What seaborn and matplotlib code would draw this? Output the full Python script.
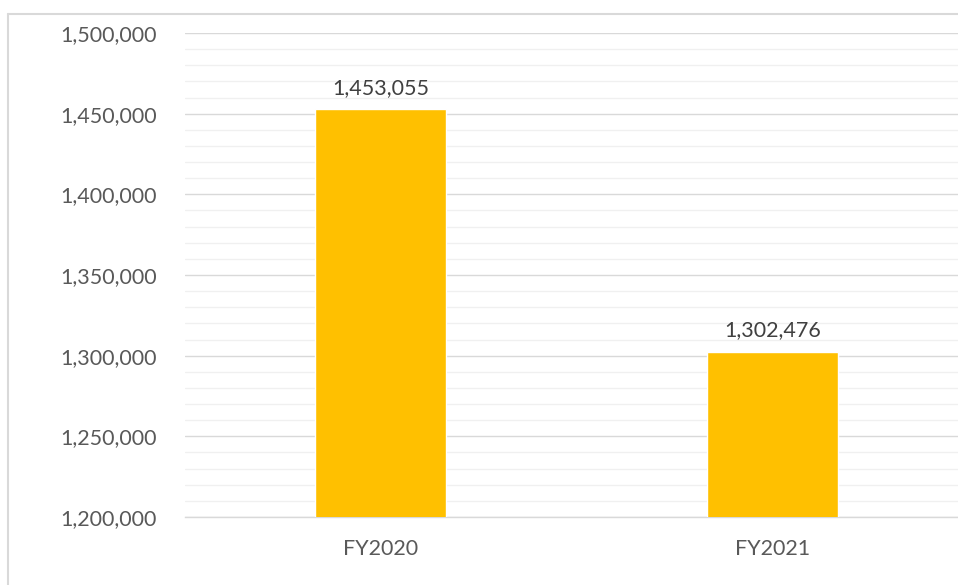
import matplotlib
matplotlib.use("Agg")
import matplotlib.pyplot as plt
from matplotlib.lines import Line2D
from matplotlib.ticker import MultipleLocator, FuncFormatter
import seaborn as sns
import pandas as pd

# Data
years = ["FY2020", "FY2021"]
values = [1453055, 1302476]

df = pd.DataFrame({"year": years, "value": values})

sns.set_style("white")
plt.rcParams["font.family"] = ["Lato", "DejaVu Sans"]

text_color = "#595959"

fig = plt.figure(figsize=(9.58, 5.85), dpi=100)
ax = fig.add_axes([0.1926, 0.1162, 0.8184, 0.8274])

sns.barplot(data=df, x="year", y="value", color="#FFC000", width=0.334,
            saturation=1, ax=ax, zorder=3)

ax.set_xlim(-0.5, 1.5)
ax.set_ylim(1200000, 1500000)
ax.yaxis.set_major_locator(MultipleLocator(50000))
ax.yaxis.set_minor_locator(MultipleLocator(10000))
ax.yaxis.set_major_formatter(FuncFormatter(lambda v, p: f"{v:,.0f}"))

ax.grid(axis="y", which="major", color="#d9d9d9", linewidth=1.0, zorder=0)
ax.grid(axis="y", which="minor", color="#f0f0f0", linewidth=1.0, zorder=0)
ax.set_axisbelow(True)

for s in ["top", "right", "left"]:
    ax.spines[s].set_visible(False)
ax.spines["bottom"].set_color("#d9d9d9")
ax.spines["bottom"].set_linewidth(1.0)

ax.tick_params(axis="y", which="both", length=0, pad=20, labelsize=15.5, labelcolor=text_color)
ax.tick_params(axis="x", length=0, pad=16, labelsize=15.5, labelcolor=text_color)
ax.set_xlabel("")
ax.set_ylabel("")

for i, v in enumerate(values):
    ax.annotate(f"{v:,}", (i, v), xytext=(0, 8), textcoords="offset points",
                ha="center", va="bottom", fontsize=15.5, color="#404040")

# chart border (top and left edges visible)
fig.add_artist(Line2D([0.008, 1.0], [1 - 14 / 585, 1 - 14 / 585],
                      transform=fig.transFigure, color="#d9d9d9", linewidth=1.5))
fig.add_artist(Line2D([0.008, 0.008], [0.0, 1 - 14 / 585],
                      transform=fig.transFigure, color="#d9d9d9", linewidth=1.5))

fig.savefig("out.png", dpi=100)
